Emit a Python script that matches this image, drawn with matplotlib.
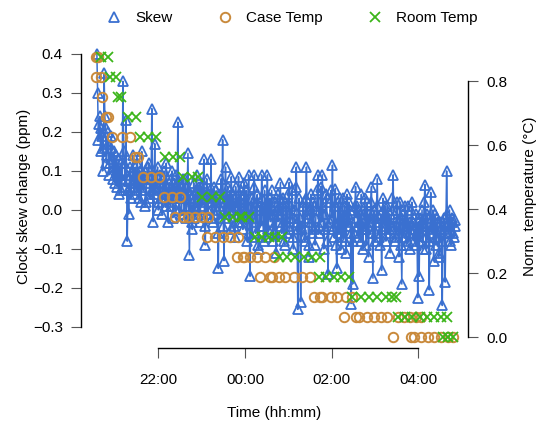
import numpy as np
import pandas as pd
import matplotlib
matplotlib.use("Agg")
import matplotlib.pyplot as plt
import matplotlib.dates as mdates
from matplotlib.lines import Line2D

plt.rcParams['font.family'] = ['Liberation Sans', 'DejaVu Sans']
plt.rcParams['font.size'] = 11

# clock skew change (ppm), one sample per minute from 20:35 (40 samples per row)
skew = [
    0.40, 0.30, 0.18, 0.22, 0.24, 0.15, 0.21, 0.19, 0.10, 0.16, 0.35, 0.24, 0.21, 0.12, 0.14, 0.20, 0.17, 0.09, 0.12, 0.16,
    0.19, 0.13, 0.08, 0.11, 0.15, 0.07, 0.11, 0.14, 0.06, 0.10, 0.13, 0.04, 0.09, 0.12, 0.05, 0.08, 0.33, 0.15, 0.12, 0.06,
    0.23, 0.09, -0.08, 0.05, -0.01, 0.08, 0.11, 0.03, 0.07, 0.10, 0.14, 0.06, 0.04, 0.11, 0.09, 0.05, 0.12, 0.07, 0.03, 0.10,
    0.08, 0.02, 0.15, 0.06, 0.05, 0.09, 0.10, 0.01, 0.02, 0.08, 0.07, 0.11, 0.12, 0.03, 0.04, 0.08, 0.26, 0.05, -0.03, 0.06,
    0.17, 0.04, 0.06, 0.09, 0.11, 0.00, 0.02, 0.07, 0.09, 0.03, -0.01, 0.05, 0.08, 0.10, 0.04, 0.01, 0.12, 0.06, -0.03, 0.04,
    0.07, 0.02, 0.01, 0.08, 0.10, -0.02, 0.05, 0.07, 0.03, 0.00, 0.09, 0.05, 0.225, 0.03, 0.00, 0.07, 0.06, -0.01, 0.04, 0.08,
    0.05, -0.01, 0.08, 0.03, -0.02, 0.06, 0.145, 0.01, -0.115, 0.04, 0.03, -0.03, -0.05, 0.02, 0.07, -0.02, 0.01, 0.05, 0.09, 0.00,
    -0.01, 0.06, 0.04, -0.03, 0.06, 0.01, 0.02, 0.07, 0.13, -0.04, -0.09, 0.03, 0.08, -0.01, 0.00, 0.04, 0.05, 0.02, 0.13, -0.02,
    -0.03, 0.04, 0.06, -0.01, 0.02, 0.05, 0.00, -0.06, -0.15, 0.01, 0.04, -0.02, 0.08, 0.03, 0.18, -0.04, -0.13, 0.02, 0.11, -0.01,
    0.03, 0.06, -0.02, 0.00, 0.05, -0.05, 0.085, 0.02, 0.00, 0.04, -0.04, -0.07, 0.06, 0.01, 0.01, -0.03, 0.085, 0.02, -0.03, 0.05,
    0.02, -0.03, -0.05, 0.04, 0.07, -0.02, 0.00, 0.05, -0.08, -0.01, 0.09, -0.06, -0.17, 0.01, 0.03, -0.07, -0.02, 0.06, 0.09, -0.03,
    -0.06, 0.02, 0.04, -0.09, -0.10, 0.00, 0.01, -0.04, 0.09, 0.03, -0.04, -0.08, 0.05, 0.00, -0.07, 0.02, 0.09, -0.05, 0.00, 0.03,
    -0.03, 0.01, 0.05, -0.05, -0.08, -0.01, 0.02, -0.06, -0.11, 0.00, 0.04, -0.03, -0.01, 0.03, 0.07, -0.04, -0.06, 0.00, 0.03, -0.08,
    -0.09, 0.02, 0.01, -0.06, -0.04, 0.04, 0.07, -0.05, -0.02, 0.01, 0.05, -0.07, -0.10, -0.02, 0.00, 0.06, 0.11, -0.03, -0.255, -0.05,
    0.03, -0.02, -0.235, -0.04, -0.05, 0.01, 0.02, -0.07, -0.08, 0.03, 0.11, -0.01, -0.02, -0.09, -0.12, 0.00, 0.04, -0.03, -0.06, 0.02,
    0.01, -0.05, -0.09, -0.02, 0.00, 0.05, 0.09, -0.06, -0.04, 0.02, 0.06, -0.03, 0.09, -0.01, -0.10, -0.05, -0.01, 0.04, 0.03, -0.08,
    -0.165, -0.04, -0.03, 0.02, 0.05, -0.02, 0.115, -0.05, -0.07, 0.01, 0.055, -0.09, -0.15, -0.03, 0.02, -0.06, -0.05, 0.03, -0.10, -0.04,
    0.03, -0.07, -0.02, 0.01, -0.08, -0.11, 0.04, -0.01, -0.04, 0.02, 0.00, -0.06, -0.24, -0.03, -0.19, -0.08, -0.06, 0.01, 0.06, -0.02,
    0.01, -0.04, -0.07, 0.00, -0.03, -0.08, 0.04, -0.02, -0.10, -0.05, -0.01, 0.03, -0.05, -0.09, 0.02, -0.04, -0.12, -0.01, -0.03, 0.02,
    0.06, -0.06, -0.175, -0.02, 0.00, -0.08, -0.06, 0.01, 0.08, -0.03, -0.02, -0.07, -0.09, -0.01, -0.155, -0.05, 0.03, -0.03, -0.04, 0.01,
    -0.08, -0.02, 0.01, -0.06, -0.05, -0.01, -0.11, -0.04, 0.00, 0.03, 0.09, -0.05, -0.03, -0.08, -0.07, 0.00, 0.02, -0.06, -0.12, -0.02,
    0.02, -0.09, -0.19, -0.01, -0.04, -0.07, -0.02, 0.01, -0.09, -0.04, 0.01, -0.08, -0.06, -0.03, -0.10, 0.00, 0.02, -0.05, -0.03, -0.08,
    -0.05, -0.09, -0.01, -0.06, -0.225, -0.03, -0.17, -0.02, -0.08, -0.04, 0.00, -0.10, -0.04, 0.02, 0.065, -0.07, -0.10, -0.01, -0.02, -0.08,
    -0.205, -0.03, 0.045, -0.05, -0.06, 0.00, -0.13, -0.04, -0.01, -0.09, -0.07, -0.02, -0.03, -0.12, -0.11, -0.03, -0.05, -0.08, -0.245, -0.06,
    -0.02, -0.05, -0.185, -0.04, 0.10, -0.01, -0.06, -0.03, 0.00, -0.08, -0.09, -0.02, -0.03, -0.06, -0.07, -0.04, -0.025,
]

# temperature readings: minutes relative to midnight, value in sensor steps (1/16 degC)
case_minutes = [-206, -206, -203, -199, -198, -192, -190, -184, -170, -159, -152, -148, -141, -130, -119,
                -112, -101, -97, -90, -86, -79, -69, -60, -53, -51, -42, -30, -21, -11, -10, -3, -1, 7, 17,
                21, 28, 35, 37, 40, 47, 55, 68, 79, 90, 95, 104, 107, 119, 127, 137, 140, 148, 154, 158,
                169, 179, 188, 197, 205, 212, 220, 228, 230, 234, 237, 244, 244, 253, 262, 271, 281, 288]
case_steps = [14, 13, 14, 13, 12, 11, 11, 10, 10, 10, 9, 9, 8, 8, 8,
              7, 7, 6, 7, 6, 6, 6, 6, 5, 6, 5, 5, 5, 4, 5, 4, 4, 4, 4,
              3, 4, 3, 3, 4, 3, 3, 3, 3, 3, 2, 2, 2, 2, 2, 1, 2, 2, 1, 1,
              1, 1, 1, 1, 0, 1, 1, 1, 0, 0, 1, 1, 0, 0, 0, 0, 0, 0]

room_minutes = [-199, -189, -187, -179, -176, -172, -162, -151, -145, -134, -123, -111, -100, -90,
                -86, -73, -65, -60, -46, -35, -28, -17, -7, -4, 6, 14, 24, 33, 42, 47, 51, 58, 69,
                82, 93, 102, 104, 112, 123, 133, 144, 148, 161, 172, 183, 195, 203, 209, 212, 221,
                231, 242, 252, 262, 271, 274, 280, 281, 288]
room_steps = [14, 14, 13, 13, 12, 12, 11, 11, 10, 10, 10, 9, 9, 9,
              8, 8, 8, 7, 7, 7, 6, 6, 6, 6, 6, 5, 5, 5, 5, 4, 5, 4, 4,
              4, 4, 3, 4, 3, 3, 3, 3, 2, 2, 2, 2, 2, 2, 2, 1, 1,
              1, 1, 1, 1, 1, 0, 1, 0, 0]

tick_labels = ["22:00", "00:00", "02:00", "04:00"]

blue = "#3a70d0"
orange = "#c98a3c"
green = "#3cb51a"

midnight = pd.Timestamp("2015-06-12 00:00")
skew_time = pd.date_range("2015-06-11 20:35", periods=len(skew), freq="1min")
case_time = midnight + pd.to_timedelta(case_minutes, unit="min")
room_time = midnight + pd.to_timedelta(room_minutes, unit="min")
case_temp = np.array(case_steps) / 16.0
room_temp = np.array(room_steps) / 16.0

fig = plt.figure(figsize=(5.45, 4.26), dpi=100)
ax = fig.add_axes([81 / 545, 78 / 426, 387 / 545, 303 / 426])
ax.plot(skew_time, skew, "-^", color=blue, mfc="none", mec=blue, ms=7.5, mew=1.3, lw=1.1)

ax2 = ax.twinx()
ax2.plot(case_time, case_temp, "o", color=orange, mfc="none", ms=6.8, mew=1.4, ls="none")
ax2.plot(room_time, room_temp, "x", color=green, ms=6.8, mew=1.3, ls="none")

x0 = mdates.date2num(pd.Timestamp("2015-06-11 20:13"))
x1 = mdates.date2num(pd.Timestamp("2015-06-12 05:08:36"))
ax.set_xlim(x0, x1)
ax.set_ylim(-0.354, 0.423)
ax2.set_ylim(-0.034, 0.9125)

ticks = [midnight + pd.Timedelta(hours=h) for h in (-2, 0, 2, 4)]
ax.set_xticks(ticks)
ax.set_xticklabels(tick_labels)
ax.set_yticks([-0.3, -0.2, -0.1, 0.0, 0.1, 0.2, 0.3, 0.4])
ax.set_yticklabels(["\u22120.3", "\u22120.2", "\u22120.1", "0.0", "0.1", "0.2", "0.3", "0.4"])
ax2.set_yticks([0.0, 0.2, 0.4, 0.6, 0.8])
ax2.set_yticklabels(["0.0", "0.2", "0.4", "0.6", "0.8"])

for a in (ax, ax2):
    a.spines["top"].set_visible(False)
    for s in a.spines.values():
        s.set_linewidth(1.0)
ax.spines["right"].set_visible(False)
ax2.spines["left"].set_visible(False)
ax2.spines["bottom"].set_visible(False)
ax.spines["left"].set_bounds(-0.3, 0.4)
ax.spines["bottom"].set_bounds(mdates.date2num(ticks[0]), mdates.date2num(ticks[-1]))
ax2.spines["right"].set_bounds(0.0, 0.8)

ax.tick_params(axis="x", length=7, width=0.8, color="#555555", pad=11)
ax.tick_params(axis="y", length=7, width=0.8, color="#555555", pad=6)
ax2.tick_params(axis="y", length=7, width=0.8, color="#555555", pad=6)

ax.set_xlabel("Time (hh:mm)")
ax.set_ylabel("Clock skew change (ppm)")
ax2.set_ylabel("Norm. temperature (\u00b0C)")
ax.xaxis.set_label_coords(0.5, -0.19)
ax.yaxis.set_label_coords(-0.13, 0.5)
ax2.yaxis.set_label_coords(1.143, 0.5)

handles = [
    Line2D([], [], marker="^", color=blue, mfc="none", ms=7.5, mew=1.3, ls="none"),
    Line2D([], [], marker="o", color=orange, mfc="none", ms=6.8, mew=1.4, ls="none"),
    Line2D([], [], marker="x", color=green, ms=6.8, mew=1.3, ls="none"),
]
fig.legend(handles, ["Skew", "Case Temp", "Room Temp"], loc="center", bbox_to_anchor=(0.535, 0.958),
           ncol=3, frameon=False, handlelength=1.2, handletextpad=0.8, columnspacing=2.8)

fig.savefig("out.png", dpi=100)
